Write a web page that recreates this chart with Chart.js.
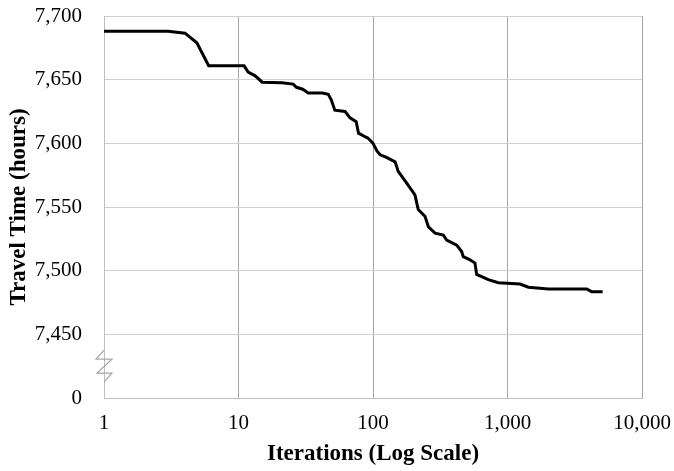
<!DOCTYPE html>
<html>
<head>
<meta charset="utf-8">
<script src="https://cdn.jsdelivr.net/npm/chart.js@4.4.1/dist/chart.umd.min.js"></script>
<style>
html,body{margin:0;padding:0;background:#fff;}
#c{display:block;}
</style>
</head>
<body>
<canvas id="c" width="674" height="471"></canvas>
<script>
const iterations = [1, 3, 4, 4.9, 6, 11, 11.8, 13.3, 15, 21, 25.5, 27, 30, 33, 42, 46.5, 49, 52, 62, 67.5, 75, 78, 88, 92, 100, 107, 113, 126, 146, 154, 168, 183, 205, 217, 244, 258, 289, 333, 353, 419, 456, 469, 526, 573, 590, 720, 855, 1240, 1430, 2010, 3880, 4220, 5100];
const travelTime = [7688, 7688, 7686.5, 7679, 7661, 7661, 7656, 7653, 7648, 7647.5, 7646.5, 7644, 7642.5, 7639.5, 7639.5, 7638.5, 7634, 7626, 7625, 7620, 7617, 7608, 7605, 7604, 7600, 7594, 7591, 7589, 7585.5, 7578, 7572.5, 7567, 7559.5, 7548, 7542.5, 7534.5, 7529.5, 7528, 7524, 7520, 7515, 7511, 7508.5, 7506, 7497, 7493, 7490.5, 7489.5, 7487, 7485.7, 7485.7, 7483.5, 7483.5];
const xTicks = [1, 10, 100, 1000, 10000];
const yTicks = [7400, 7450, 7500, 7550, 7600, 7650, 7700];
const yBreakLabel = '0';
const xTitle = 'Iterations (Log Scale)';
const yTitle = 'Travel Time (hours)';

const points = iterations.map((x, i) => ({x: x, y: travelTime[i]}));
const fmt = v => Number(v).toLocaleString('en-US');
const FONT = "'Liberation Serif', 'Times New Roman', serif";
const noOverflow = s => { s.paddingLeft = 0; s.paddingRight = 0; s.paddingTop = 0; s.paddingBottom = 0; };

const breakPlugin = {
  id: 'axisBreak',
  afterDraw(chart) {
    const ctx = chart.ctx;
    const ys = chart.scales.y;
    const xs = chart.scales.x;
    const x0 = xs.left;
    const yc = ys.getPixelForValue(7425);
    ctx.save();
    ctx.strokeStyle = '#a6a6a6';
    ctx.lineWidth = 1.2;
    ctx.beginPath();
    ctx.moveTo(x0, yc - 16);
    ctx.lineTo(x0 - 8, yc - 7);
    ctx.lineTo(x0 + 8, yc - 7);
    ctx.lineTo(x0 - 7, yc + 7);
    ctx.lineTo(x0 + 8, yc + 7);
    ctx.lineTo(x0, yc + 16);
    ctx.stroke();
    ctx.restore();
  }
};

new Chart(document.getElementById('c'), {
  type: 'scatter',
  data: {
    datasets: [{
      data: points,
      showLine: true,
      borderColor: '#000000',
      borderWidth: 3,
      pointRadius: 0,
      tension: 0,
      fill: false
    }]
  },
  options: {
    responsive: false,
    animation: false,
    layout: {padding: {left: 0, right: 32, top: 16, bottom: 0}},
    plugins: {legend: {display: false}, tooltip: {enabled: false}},
    scales: {
      x: {
        type: 'logarithmic',
        min: 1,
        max: 10000,
        afterBuildTicks: s => { s.ticks = xTicks.map(v => ({value: v})); },
        afterFit: s => { s.height = 73; noOverflow(s); },
        ticks: {
          callback: v => fmt(v),
          color: '#000',
          font: {family: FONT, size: 21},
          padding: 13,
          maxRotation: 0,
          autoSkip: false
        },
        grid: {color: '#a6a6a6', lineWidth: 1, drawTicks: false},
        border: {color: '#bfbfbf', width: 1},
        title: {
          display: true,
          text: xTitle,
          color: '#000',
          font: {family: FONT, size: 23, weight: 'bold'},
          padding: {top: 4, bottom: 3}
        }
      },
      y: {
        type: 'linear',
        min: 7400,
        max: 7700,
        afterBuildTicks: s => { s.ticks = yTicks.map(v => ({value: v})); },
        afterFit: s => { s.width = 104; noOverflow(s); },
        ticks: {
          callback: v => (v === 7400 ? yBreakLabel : fmt(v)),
          color: '#000',
          font: {family: FONT, size: 21},
          padding: 22
        },
        grid: {color: '#d0d0d0', lineWidth: 1, drawTicks: false},
        border: {color: '#bfbfbf', width: 1},
        title: {
          display: true,
          text: yTitle,
          color: '#000',
          font: {family: FONT, size: 23, weight: 'bold'},
          padding: {top: 5, bottom: 0}
        }
      }
    }
  },
  plugins: [breakPlugin]
});
</script>
</body>
</html>
